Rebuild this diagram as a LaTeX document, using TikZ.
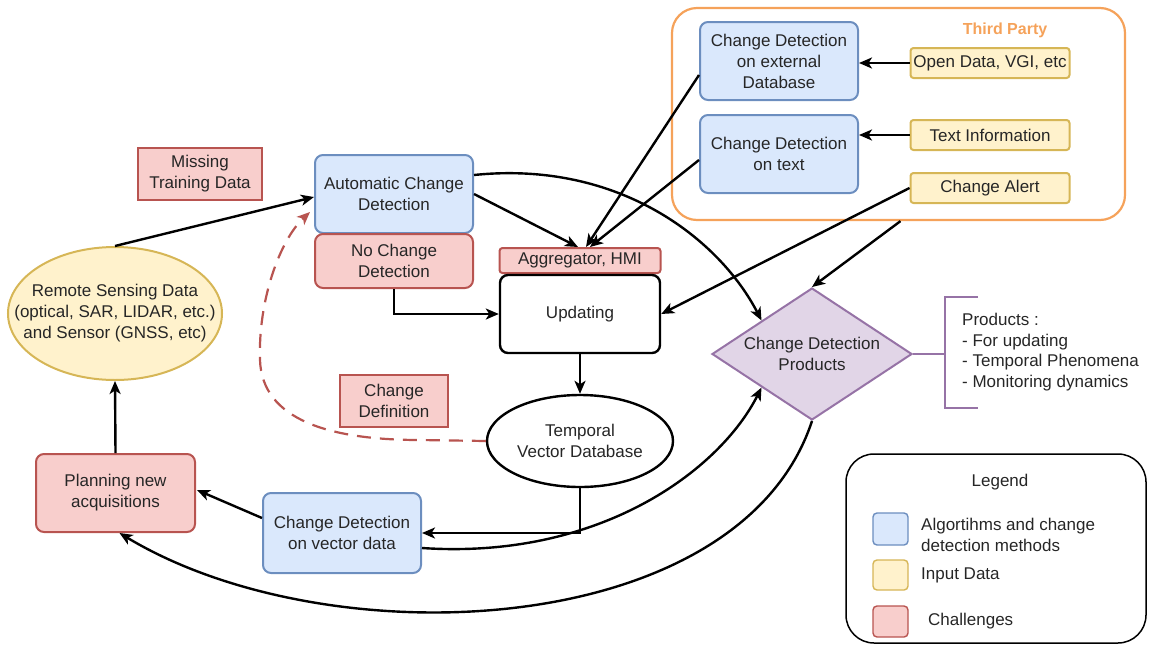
\documentclass[tikz,border=0pt]{standalone}
\usepackage{fontspec}
\setmainfont{Liberation Sans}
\usetikzlibrary{shapes.geometric,arrows.meta,calc}
\definecolor{bluef}{HTML}{DAE8FC}\definecolor{blued}{HTML}{6C8EBF}
\definecolor{yelf}{HTML}{FFF2CC}\definecolor{yeld}{HTML}{D6B656}
\definecolor{redf}{HTML}{F8CECC}\definecolor{redd}{HTML}{B85450}
\definecolor{purf}{HTML}{E1D5E7}\definecolor{purd}{HTML}{9673A6}
\definecolor{orad}{HTML}{F5A25A}
\newcommand{\fs}{\fontsize{17}{21}\selectfont}
\begin{document}
\begin{tikzpicture}[x=1pt,y=-1pt,
  every node/.style={font=\fs, text=black!85},
  box/.style={rounded corners=8pt, line width=2pt, align=center, inner sep=2pt},
  bluebox/.style={box, fill=bluef, draw=blued, minimum width=158pt, minimum height=78pt},
  yelbox/.style={box, rounded corners=3pt, fill=yelf, draw=yeld, minimum width=159pt, minimum height=30pt},
  redbox/.style={box, fill=redf, draw=redd},
  redsq/.style={box, sharp corners, line width=2.4pt, fill=redf, draw=redd},
  arr/.style={-{Stealth[length=13pt,width=11pt,inset=3.5pt]}, line width=2.4pt, black},
  swatch/.style={rounded corners=4pt, line width=1.4pt, minimum width=35pt, minimum height=32pt, inner sep=0pt}
]
\useasboundingbox (0,0) rectangle (1149,646);

% Third party container
\node[draw=orad, line width=2.2pt, rounded corners=25pt, minimum width=453pt, minimum height=212pt, inner sep=0pt] (tp) at (898.5,114) {};
\node[text=orad, font=\fontsize{16}{19}\selectfont\bfseries] (tplabel) at (1005,30) {Third Party};

\node[bluebox] (extdb) at (779,61) {Change Detection\\on external\\Database};
\node[bluebox] (cdtext) at (779,154) {Change Detection\\on text};
\node[yelbox] (opendata) at (990,63) {Open Data, VGI, etc};
\node[yelbox] (textinfo) at (990,135) {Text Information};
\node[yelbox] (alert) at (990,188) {Change Alert};

\node[redsq, minimum width=124pt, minimum height=52pt] (missing) at (200,174) {Missing\\Training Data};
\node[bluebox] (acd) at (394,194) {Automatic Change\\Detection};
\node[redbox, minimum width=158pt, minimum height=54pt] (ncd) at (394,261) {No Change\\Detection};
\node[redbox, rounded corners=3pt, minimum width=161pt, minimum height=25pt] (agg) at (580,260.5) {Aggregator, HMI};
\node[box, draw=black, line width=2.4pt, fill=white, minimum width=160pt, minimum height=78pt] (upd) at (580,314) {Updating};

\node[ellipse, fill=yelf, draw=yeld, line width=2pt, minimum width=214pt, minimum height=133pt, inner sep=0pt] (rs) at (115,313.5) {};
\node[align=center] (rstext) at (rs) {Remote Sensing Data\\(optical, SAR, LIDAR, etc.)\\and Sensor (GNSS, etc)};
\node[redbox, minimum width=159pt, minimum height=78pt] (planning) at (115.5,493) {Planning new\\acquisitions};
\node[redsq, minimum width=108pt, minimum height=52pt] (changedef) at (394,401) {Change\\Definition};
\node[ellipse, draw=black, line width=2.4pt, fill=white, minimum width=186pt, minimum height=92pt, inner sep=0pt] (tvd) at (580,441) {};
\node[align=center] (tvdtext) at (tvd) {Temporal\\Vector Database};
\node[bluebox, minimum height=80pt] (cdv) at (342,533) {Change Detection\\on vector data};

\node[diamond, fill=purf, draw=purd, line width=2pt, minimum width=200pt, minimum height=132pt, inner sep=0pt] (cdp) at (812,354) {};
\node[align=center] (cdptext) at (cdp) {Change Detection\\Products};

% bracket
\coordinate (brm) at (945,354);
\coordinate (brt) at (978,297);
\coordinate (brb) at (978,408);
\draw[purd, line width=2.2pt] (cdp.east) -- (brm);
\draw[purd, line width=2.2pt] (brt) -- (brt -| brm) -- (brb -| brm) -- (brb);
\node[anchor=north west, align=left, inner sep=0pt, font=\fontsize{17}{20.5}\selectfont] (prod) at (962,313) {Products :\\- For updating\\- Temporal Phenomena\\- Monitoring dynamics};

% Legend
\node[draw=black, line width=1.5pt, rounded corners=28pt, minimum width=300pt, minimum height=189pt, inner sep=0pt] (legend) at (996,548.5) {};
\node (legtitle) at (1000,482) {Legend};
\node[swatch, fill=bluef, draw=blued] (sw1) at (890.5,529) {};
\node[swatch, fill=yelf, draw=yeld, minimum height=30pt] (sw2) at (890.5,575) {};
\node[swatch, fill=redf, draw=redd, minimum height=31pt] (sw3) at (890.5,621.5) {};
\node[anchor=west, align=left, inner sep=0pt, font=\fontsize{17}{21}\selectfont] (lt1) at (921,534.5) {Algortihms and change\\detection methods};
\node[anchor=west, inner sep=0pt] (lt2) at (921,575) {Input Data};
\node[anchor=west, inner sep=0pt] (lt3) at (928,621) {Challenges};

% connectors
\draw[arr] (rs.north) -- ($(acd.west)+(0,3)$);
\draw[redd, line width=2.2pt, dash pattern=on 14pt off 9pt, -{Stealth[length=13pt,width=11pt,inset=3.5pt]}]
  (tvd.west) -- (420,440) .. controls (330,440) and (262,420) .. (260,360)
  .. controls (258,300) and (280,240) .. ($(acd.west)+(-4,18)$);
\draw[arr] (acd.east) -- ($(agg.north)+(-2,0)$);
\draw[arr] ($(acd.east)+(0,-19)$) .. controls (620,160) and (720,240) .. (cdp.north west);
\draw[arr] ($(extdb.west)+(0,14)$) -- ($(agg.north)+(6,0)$);
\draw[arr] ($(cdtext.west)+(0,6)$) -- ($(agg.north)+(10,0)$);
\draw[arr] (opendata.west) -- (opendata.west -| extdb.east);
\draw[arr] (textinfo.west) -- (textinfo.west -| cdtext.east);
\draw[arr] (alert.west) -- (upd.east);
\coordinate (tpout) at ($(tp.south)+(2,0)$);
\draw[arr] (tpout) -- (cdp.north);
\draw[arr] (ncd.south) |- (upd.west);
\draw[arr] (upd.south) -- (tvd.north);
\draw[arr] (tvd.south) |- (cdv.east);
\draw[arr] ($(cdv.east)+(0,15)$) .. controls (600,560) and (720,470) .. (cdp.south west);
\draw[arr] ($(cdv.west)+(0,-15)$) -- ($(planning.east)+(1,-3)$);
\draw[arr] (cdp.south) .. controls (740,640) and (330,660) .. ($(planning.south)+(4,0)$);
\draw[arr] (planning.north) -- (rs.south);
\end{tikzpicture}
\end{document}
